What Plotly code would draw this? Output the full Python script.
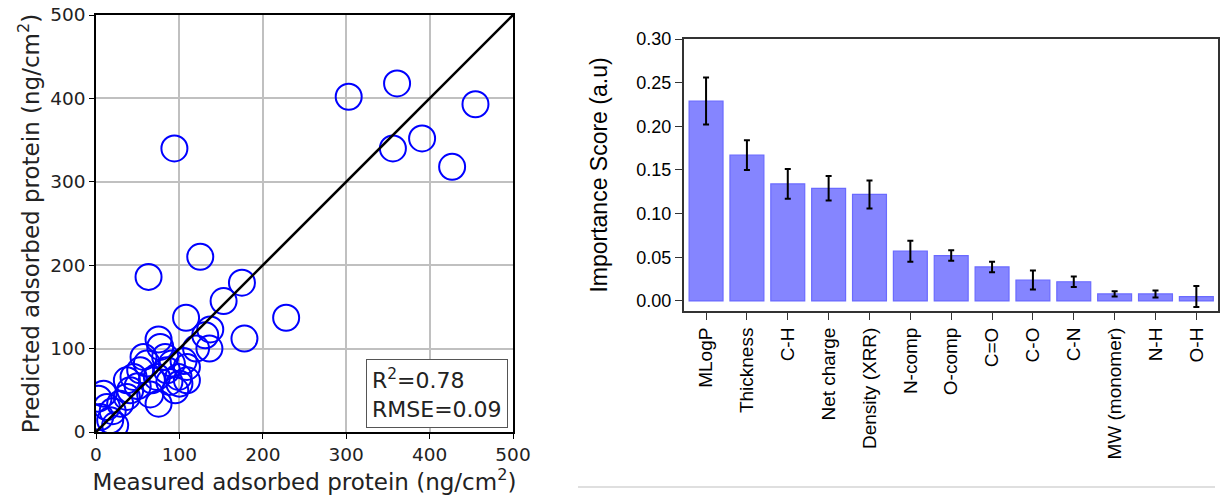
import plotly.graph_objects as go

# ---------------- data: left scatter ----------------
measured = [303, 361, 455, 356, 391, 427, 94, 125, 63, 175, 153, 108, 228, 137, 131,
            178, 75, 136, 77, 83, 91, 109, 99, 109, 75, 61, 53, 45, 37, 41, 67, 9, 13,
            17, 23, 5, 29, 37, 73, 85, 57, 3, 20, 88, 100, 95, 65, 50, 120, 105]
predicted = [402, 418, 393, 340, 352, 318, 340, 210, 186, 179, 157, 137, 137, 123, 116,
             112, 111, 100, 102, 90, 82, 62, 66, 78, 34, 82, 74, 66, 62, 50, 62, 46, 30,
             14, 8, 18, 34, 42, 66, 74, 90, 40, 25, 60, 58, 50, 45, 55, 100, 85]
diag = [0, 500]
stats_text = "R<sup>2</sup>=0.78<br>RMSE=0.09"

# ---------------- data: right bar chart ----------------
features = ["MLogP", "Thickness", "C-H", "Net charge", "Density (XRR)", "N-comp", "O-comp",
            "C=O", "C-O", "C-N", "MW (monomer)", "N-H", "O-H"]
importance = [0.229, 0.167, 0.134, 0.129, 0.122, 0.057, 0.052, 0.039, 0.024, 0.022, 0.008, 0.008, 0.005]
importance_err = [0.027, 0.017, 0.017, 0.014, 0.016, 0.012, 0.006, 0.006, 0.011, 0.006, 0.003, 0.004, 0.012]

W, H = 1224, 499

fig = go.Figure()

fig.add_trace(go.Scatter(
    x=measured, y=predicted, mode="markers",
    marker=dict(symbol="circle-open", size=26, color="blue", line=dict(width=2, color="blue")),
    xaxis="x", yaxis="y", showlegend=False, cliponaxis=True,
))
fig.add_trace(go.Scatter(
    x=diag, y=diag, mode="lines", line=dict(color="black", width=2.6),
    xaxis="x", yaxis="y", showlegend=False,
))

fig.add_trace(go.Bar(
    x=features, y=importance,
    error_y=dict(type="data", array=importance_err, color="black", thickness=2, width=3),
    marker=dict(color="#8585ff", line=dict(color="#6a6aff", width=1.2)),
    width=0.83, xaxis="x2", yaxis="y2", showlegend=False,
))

left_font = dict(family="DejaVu Sans", color="#222", size=18.5)
right_font = dict(family="Liberation Sans, Arial", color="black", size=18)
xcat_font = dict(family="Liberation Sans, Arial", color="black", size=19)

fig.update_layout(
    width=W, height=H,
    margin=dict(l=0, r=0, t=0, b=0),
    paper_bgcolor="white", plot_bgcolor="white",
    xaxis=dict(
        domain=[96 / W, 513 / W], range=[0, 500], dtick=100, tick0=0,
        showgrid=True, gridcolor="#c0c0c0", gridwidth=1.6,
        showline=True, linecolor="black", linewidth=1.6, mirror=True,
        ticks="outside", ticklen=5, tickwidth=1.4, tickcolor="black",
        tickfont=left_font, zeroline=False, anchor="y", automargin=False,
        title=dict(text="Measured adsorbed protein (ng/cm<sup>2</sup>)",
                   font=dict(family="DejaVu Sans", size=23, color="#222"), standoff=4),
    ),
    yaxis=dict(
        domain=[(H - 432) / H, (H - 15) / H], range=[0, 500], dtick=100, tick0=0,
        showgrid=True, gridcolor="#c0c0c0", gridwidth=1.6,
        showline=True, linecolor="black", linewidth=1.6, mirror=True,
        ticks="outside", ticklen=5, tickwidth=1.4, tickcolor="black",
        tickfont=left_font, zeroline=False, anchor="x", automargin=False,
        title=dict(text="Predicted adsorbed protein (ng/cm<sup>2</sup>)",
                   font=dict(family="DejaVu Sans", size=23, color="#222"), standoff=4),
    ),
    xaxis2=dict(
        domain=[684 / W, 1218 / W], range=[-0.54, 12.53],
        showline=True, linecolor="#333", linewidth=2, mirror=True,
        ticks="outside", ticklen=7, tickwidth=1.4, tickcolor="#333",
        tickangle=-90, tickfont=xcat_font, showgrid=False, zeroline=False, anchor="y2",
        automargin=False,
    ),
    yaxis2=dict(
        domain=[(H - 311) / H, (H - 39) / H], range=[-0.0115, 0.3],
        tickvals=[0, 0.05, 0.10, 0.15, 0.20, 0.25, 0.30], tickformat=".2f",
        showline=True, linecolor="#333", linewidth=2, mirror=True,
        ticks="outside", ticklen=7, tickwidth=1.4, tickcolor="#333",
        tickfont=right_font, showgrid=False, zeroline=False, anchor="x2", automargin=False,
        title=dict(text="Importance Score (a.u)",
                   font=dict(family="Liberation Sans, Arial", size=23, color="black"), standoff=22),
    ),
    annotations=[dict(
        x=494, y=5, xref="x", yref="y", xanchor="right", yanchor="bottom",
        text=stats_text, showarrow=False, align="left",
        font=dict(family="DejaVu Sans", size=22, color="#222"),
        bordercolor="#555", borderwidth=1, borderpad=5, bgcolor="white",
    )],
    shapes=[dict(type="line", xref="paper", yref="paper",
                 x0=578 / W, x1=1215 / W, y0=(H - 487) / H, y1=(H - 487) / H,
                 line=dict(color="#d5d5d5", width=1.5))],
)

fig.write_html("out.html",
               config={"displayModeBar": False},
               post_script="document.body.style.margin='0';document.body.style.padding='0';")
